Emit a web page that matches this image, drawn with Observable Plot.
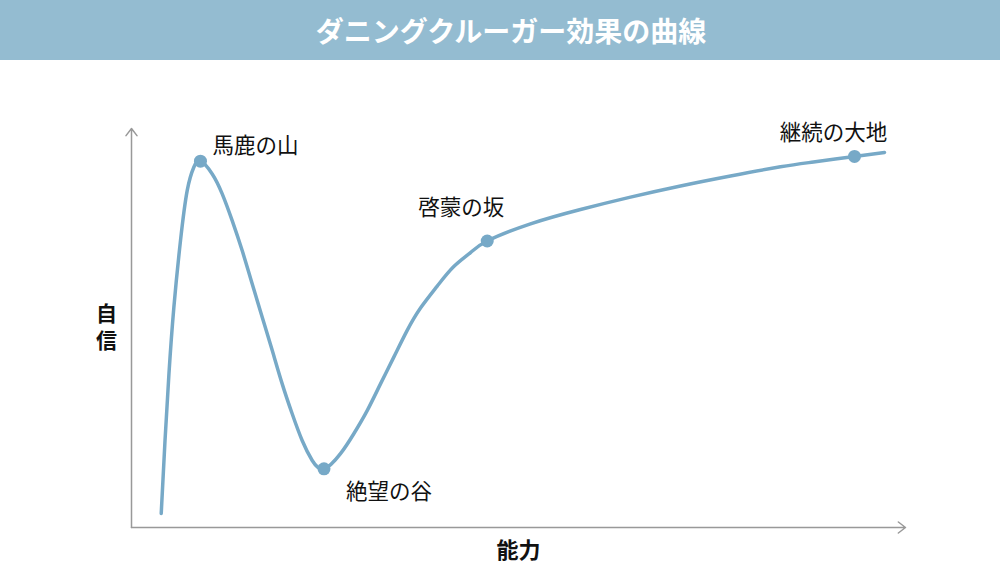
<!DOCTYPE html>
<html>
<head>
<meta charset="utf-8">
<script src="https://cdn.jsdelivr.net/npm/d3@7"></script>
<script src="https://cdn.jsdelivr.net/npm/@observablehq/plot@0.6"></script>
<style>
  html, body { margin: 0; padding: 0; background: #fff; }
  #title {
    height: 60px; line-height: 60px; background: #94bcd1; color: #fff;
    font-family: "Noto Sans CJK JP", sans-serif; font-weight: bold; font-size: 28px;
    text-align: center; padding-left: 22px; box-sizing: border-box; width: 1000px;
  }
</style>
</head>
<body>
<div id="title">ダニングクルーガー効果の曲線</div>
<div id="chart"></div>
<script>
// Curve (x: 能力 0–100, y: 自信 0–100)
const curveX = [3.84, 4.33, 4.84, 5.47, 6.33, 7.20, 8.05, 8.91,
  10.43, 11.72, 13.01, 14.30, 15.59, 16.89, 18.18, 19.47, 20.76, 22.05, 23.35, 24.87,
  27.00, 28.72, 30.45, 32.17, 33.89, 35.62, 37.34, 39.50, 41.64, 43.80, 45.96,
  51.55, 58.01, 64.47, 70.93, 77.39, 83.85, 88.11, 93.41, 97.29];
const curveY = [3.5, 21.8, 38.6, 55.1, 71.9, 84.5, 90.3, 91.8,
  88.6, 83.6, 76.9, 69.4, 61.1, 52.7, 44.4, 36.0, 28.5, 21.8, 16.8, 14.7,
  18.5, 23.5, 29.3, 36.0, 42.7, 49.4, 55.0, 60.5, 65.4, 68.9, 71.8,
  76.1, 79.7, 82.8, 85.6, 88.1, 90.4, 91.6, 93.0, 94.0];

// Labelled points
const pointNames = ["馬鹿の山", "絶望の谷", "啓蒙の坂", "継続の大地"];
const pointX = [8.91, 24.87, 45.96, 93.41];
const pointY = [91.8, 14.7, 71.8, 93.0];

const axisTitleX = "能力";
const axisTitleY = ["自", "信"];

const curve = curveX.map((x, i) => ({x, y: curveY[i]}));
const points = pointNames.map((name, i) => ({name, x: pointX[i], y: pointY[i]}));
const axes = [
  {x1: 0, y1: 0, x2: 0, y2: 100},
  {x1: 0, y1: 0, x2: 100, y2: 0}
];
const labelOffsets = [
  {anchor: "start", dx: 12, dy: -15},
  {anchor: "start", dx: 22, dy: 23},
  {anchor: "middle", dx: -26, dy: -33},
  {anchor: "middle", dx: -21, dy: -23}
];
const col = "#77a9c7";

const chart = Plot.plot({
  width: 1000,
  height: 526,
  marginLeft: 131,
  marginRight: 95,
  marginTop: 68,
  marginBottom: 59,
  x: {domain: [0, 100], axis: null},
  y: {domain: [0, 100], axis: null},
  style: {fontFamily: "'Noto Sans CJK JP', sans-serif", background: "#fff"},
  marks: [
    Plot.arrow(axes, {x1: "x1", y1: "y1", x2: "x2", y2: "y2", stroke: "#999", strokeWidth: 1.5, headLength: 9, headAngle: 75}),
    Plot.line(curve, {x: "x", y: "y", stroke: col, strokeWidth: 3.5, curve: "natural"}),
    Plot.dot(points, {x: "x", y: "y", r: 6.5, fill: col, stroke: "none"}),
    ...points.map((p, i) => Plot.text([p], {
      x: "x", y: "y", text: "name",
      textAnchor: labelOffsets[i].anchor, dx: labelOffsets[i].dx, dy: labelOffsets[i].dy,
      fontSize: 21.5, fill: "#111"
    })),
    Plot.text([axisTitleX], {frameAnchor: "bottom", dy: 30, fontSize: 22, fontWeight: "bold", fill: "#111"}),
    Plot.text([axisTitleY[0]], {frameAnchor: "left", dx: -25, dy: -14, textAnchor: "middle", fontSize: 21, fontWeight: "bold", fill: "#111"}),
    Plot.text([axisTitleY[1]], {frameAnchor: "left", dx: -25, dy: 13, textAnchor: "middle", fontSize: 21, fontWeight: "bold", fill: "#111"})
  ]
});
document.getElementById("chart").appendChild(chart);
</script>
</body>
</html>
